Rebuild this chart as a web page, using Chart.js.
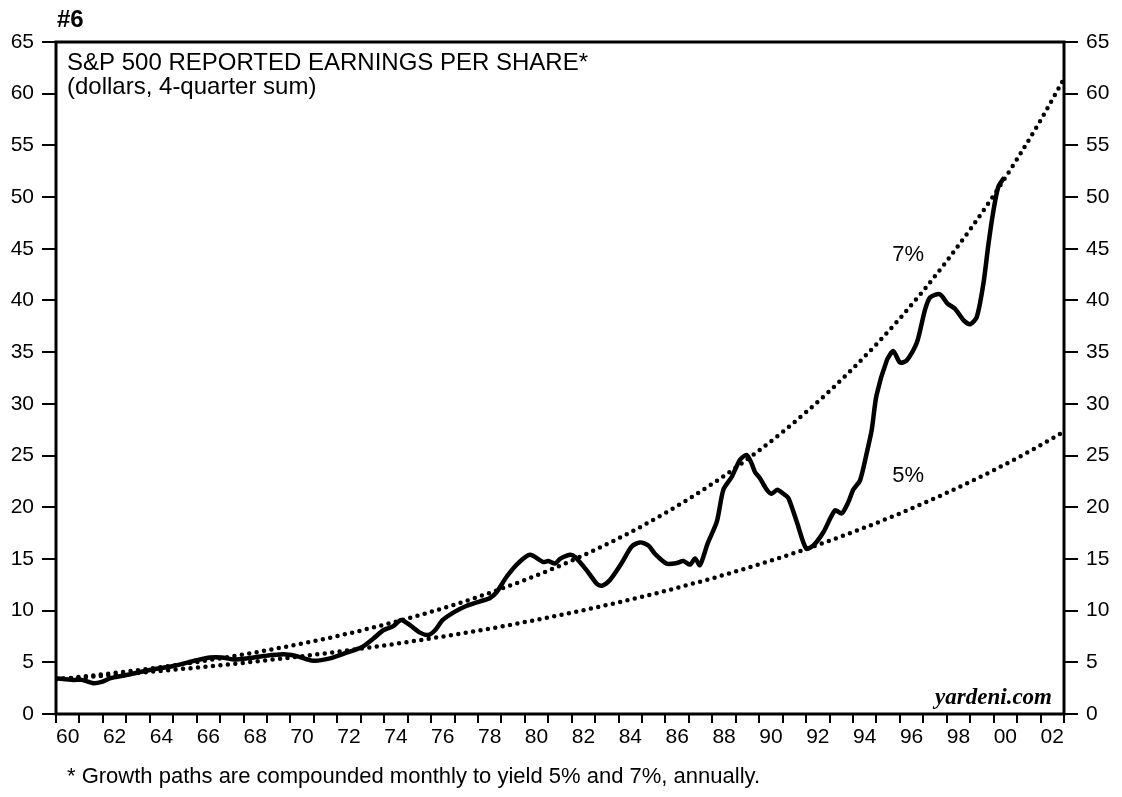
<!DOCTYPE html>
<html>
<head>
<meta charset="utf-8">
<script src="https://cdn.jsdelivr.net/npm/chart.js@4"></script>
<style>
  body { margin: 0; background: #fff; }
  #wrap { width: 1122px; height: 797px; }
</style>
</head>
<body>
<div id="wrap"><canvas id="eps" width="1122" height="797"></canvas></div>
<script>
// growth paths
const years = [1960, 1961, 1962, 1963, 1964, 1965, 1966, 1967, 1968, 1969,
  1970, 1971, 1972, 1973, 1974, 1975, 1976, 1977, 1978, 1979,
  1980, 1981, 1982, 1983, 1984, 1985, 1986, 1987, 1988, 1989,
  1990, 1991, 1992, 1993, 1994, 1995, 1996, 1997, 1998, 1999,
  2000, 2001, 2002, 2003];
const path5 = [3.35, 3.52, 3.69, 3.88, 4.07, 4.28, 4.49, 4.71, 4.95, 5.2,
  5.46, 5.73, 6.02, 6.32, 6.63, 6.96, 7.31, 7.68, 8.06, 8.46,
  8.89, 9.33, 9.8, 10.29, 10.8, 11.34, 11.91, 12.51, 13.13, 13.79,
  14.48, 15.2, 15.96, 16.76, 17.6, 18.48, 19.4, 20.37, 21.39, 22.46,
  23.58, 24.76, 26.0, 27.3];
const path7 = [3.35, 3.58, 3.84, 4.1, 4.39, 4.7, 5.03, 5.38, 5.76, 6.16,
  6.59, 7.05, 7.54, 8.07, 8.64, 9.24, 9.89, 10.58, 11.32, 12.12,
  12.96, 13.87, 14.84, 15.88, 16.99, 18.18, 19.45, 20.82, 22.27, 23.83,
  25.5, 27.29, 29.2, 31.24, 33.43, 35.77, 38.27, 40.95, 43.82, 46.88,
  50.16, 53.68, 57.43, 61.45];

// reported EPS (4-quarter sum)
const epsDates = [1960.0, 1960.74, 1961.1, 1961.6, 1961.95, 1962.3, 1963.0, 1964.0, 1965.0, 1966.0,
  1966.57, 1967.07, 1967.57, 1968.14, 1968.85, 1969.7, 1970.27, 1970.98, 1971.69, 1972.4,
  1973.04, 1973.54, 1973.96, 1974.39, 1974.72, 1975.1, 1975.53, 1975.88, 1976.17, 1976.5,
  1977.02, 1977.5, 1978.09, 1978.5, 1978.8, 1979.23, 1979.72, 1980.22, 1980.79, 1981.0,
  1981.29, 1981.5, 1981.93, 1982.14, 1982.64, 1983.07, 1983.28, 1983.63, 1984.13, 1984.56,
  1984.91, 1985.27, 1985.55, 1986.05, 1986.48, 1986.76, 1987.05, 1987.26, 1987.47, 1987.8,
  1988.19, 1988.47, 1988.83, 1989.18, 1989.47, 1989.68, 1989.82, 1990.03, 1990.32, 1990.53,
  1990.77, 1991.03, 1991.24, 1991.6, 1992.0, 1992.31, 1992.74, 1993.23, 1993.52, 1993.8,
  1994.01, 1994.3, 1994.58, 1994.8, 1995.0, 1995.44, 1995.72, 1996.0, 1996.29, 1996.72,
  1997.07, 1997.29, 1997.71, 1998.03, 1998.35, 1998.71, 1999.0, 1999.28, 1999.56, 1999.78,
  1999.99, 2000.2, 2000.45];
const epsValues = [3.45, 3.3, 3.3, 2.97, 3.1, 3.45, 3.77, 4.25, 4.64, 5.2,
  5.47, 5.47, 5.28, 5.38, 5.6, 5.77, 5.6, 5.15, 5.38, 5.93,
  6.45, 7.3, 8.1, 8.5, 9.1, 8.6, 7.87, 7.64, 8.1, 9.1,
  9.9, 10.45, 10.9, 11.2, 11.8, 13.3, 14.6, 15.4, 14.7, 14.8,
  14.55, 15.0, 15.4, 15.2, 13.9, 12.6, 12.4, 12.96, 14.6, 16.2,
  16.6, 16.3, 15.5, 14.55, 14.6, 14.8, 14.45, 15.05, 14.4, 16.5,
  18.6, 21.7, 22.95, 24.6, 25.05, 24.2, 23.4, 22.8, 21.7, 21.3,
  21.7, 21.3, 20.9, 18.6, 16.0, 16.3, 17.6, 19.7, 19.4, 20.5,
  21.7, 22.6, 25.2, 27.5, 30.8, 34.2, 35.1, 34.0, 34.2, 35.9,
  39.1, 40.3, 40.6, 39.7, 39.2, 38.1, 37.7, 38.4, 41.6, 45.5,
  48.7, 51.0, 51.9];

const FONT = '"Liberation Sans", Arial, sans-serif';

const toXY = (xs, ys) => xs.map((x, i) => ({ x: x, y: ys[i] }));

const overlay = {
  id: 'overlay',
  afterDraw(chart) {
    const { ctx, chartArea: a, scales } = chart;
    ctx.save();
    ctx.strokeStyle = '#000';
    ctx.lineWidth = 3;
    ctx.strokeRect(a.left, a.top, a.right - a.left, a.bottom - a.top);

    ctx.fillStyle = '#000';
    ctx.textBaseline = 'middle';
    ctx.textAlign = 'left';
    ctx.font = 'bold 24px ' + FONT;
    ctx.fillText('#6', 57, 20);
    ctx.font = '24px ' + FONT;
    ctx.fillText('S&P 500 REPORTED EARNINGS PER SHARE*', 67, 63);
    ctx.fillText('(dollars, 4-quarter sum)', 67, 87);

    ctx.font = '22px ' + FONT;
    ctx.fillText('* Growth paths are compounded monthly to yield 5% and 7%, annually.', 67, 777);

    ctx.textAlign = 'center';
    ctx.fillText('7%', scales.x.getPixelForValue(1996.35), scales.y.getPixelForValue(44.4));
    ctx.fillText('5%', scales.x.getPixelForValue(1996.35), scales.y.getPixelForValue(23.0));

    ctx.textAlign = 'right';
    ctx.font = 'bold italic 23px "Liberation Serif", "Times New Roman", serif';
    ctx.fillText('yardeni.com', a.right - 12, a.bottom - 16);
    ctx.restore();
  }
};

const tickGrid = len => ({
  drawOnChartArea: false,
  drawTicks: true,
  tickLength: len,
  color: '#000',
  lineWidth: 2
});

new Chart(document.getElementById('eps'), {
  type: 'line',
  data: {
    datasets: [{
      label: '7%',
      data: toXY(years, path7),
      borderColor: '#000',
      borderWidth: 4.5,
      borderDash: [0, 7.5],
      borderCapStyle: 'round',
      cubicInterpolationMode: 'monotone',
      pointRadius: 0
    }, {
      label: '5%',
      data: toXY(years, path5),
      borderColor: '#000',
      borderWidth: 4.5,
      borderDash: [0, 7.5],
      borderCapStyle: 'round',
      cubicInterpolationMode: 'monotone',
      pointRadius: 0
    }, {
      label: 'EPS',
      data: toXY(epsDates, epsValues),
      borderColor: '#000',
      borderWidth: 4.5,
      borderJoinStyle: 'round',
      tension: 0.25,
      pointRadius: 0
    }]
  },
  options: {
    responsive: false,
    animation: false,
    layout: { padding: { top: 42, left: 0, right: 0, bottom: 0 } },
    plugins: {
      legend: { display: false },
      tooltip: { enabled: false }
    },
    scales: {
      x: {
        type: 'linear',
        min: 1960,
        max: 2003,
        afterFit: s => { s.height = 83; },
        border: { display: false },
        grid: tickGrid(9),
        ticks: {
          stepSize: 1,
          autoSkip: false,
          maxRotation: 0,
          labelOffset: 11.7,
          padding: 2,
          color: '#000',
          font: { size: 21, family: FONT },
          callback: v => (v % 2 === 0 && v < 2003) ? String(v % 100).padStart(2, '0') : ''
        }
      },
      y: {
        position: 'left',
        min: 0,
        max: 65,
        afterFit: s => { s.width = 56; },
        border: { display: false },
        grid: tickGrid(14),
        ticks: { stepSize: 5, padding: 8, color: '#000', font: { size: 21, family: FONT } }
      },
      y2: {
        position: 'right',
        min: 0,
        max: 65,
        afterFit: s => { s.width = 58; },
        border: { display: false },
        grid: tickGrid(14),
        ticks: { stepSize: 5, padding: 8, color: '#000', font: { size: 21, family: FONT } }
      }
    }
  },
  plugins: [overlay]
});
</script>
</body>
</html>
